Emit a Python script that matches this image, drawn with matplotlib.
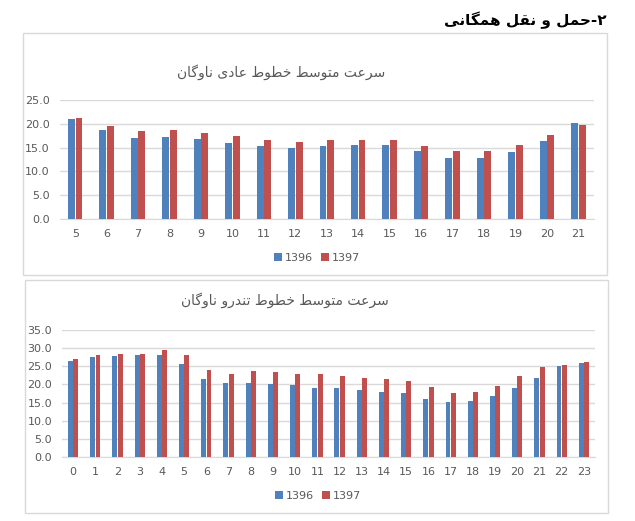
import matplotlib
matplotlib.use("Agg")
import matplotlib.pyplot as plt
from matplotlib.patches import Rectangle
import numpy as np

plt.rcParams['font.family'] = ['DejaVu Sans']

# --- dados ---
main_title = "۲-حمل و نقل همگانی"
title_regular = "سرعت متوسط خطوط عادی ناوگان"
title_express = "سرعت متوسط خطوط تندرو ناوگان"
series_names = ["1396", "1397"]

hours_regular = list(range(5, 22))
regular_1396 = [21.0, 18.7, 17.1, 17.3, 16.9, 16.0, 15.4, 15.0, 15.4,
                15.5, 15.5, 14.3, 12.9, 12.9, 14.0, 16.3, 20.1]
regular_1397 = [21.2, 19.6, 18.5, 18.7, 18.0, 17.4, 16.6, 16.2, 16.6,
                16.6, 16.6, 15.4, 14.3, 14.3, 15.6, 17.6, 19.8]

hours_express = list(range(0, 24))
express_1396 = [26.4, 27.5, 27.7, 28.1, 28.1, 25.5, 21.4, 20.3, 20.5, 20.1,
                19.8, 19.1, 19.0, 18.5, 18.0, 17.6, 16.1, 15.1, 15.4, 16.9,
                19.0, 21.9, 25.0, 25.8]
express_1397 = [27.1, 28.1, 28.3, 28.5, 29.6, 28.2, 24.1, 22.9, 23.6, 23.3,
                23.0, 22.8, 22.2, 21.9, 21.6, 20.9, 19.2, 17.6, 18.0, 19.7,
                22.2, 24.7, 25.4, 26.1]

BLUE = "#4F81BD"
RED = "#C0504D"
GRID = "#D9D9D9"
TXT = "#595959"

# formas de apresentacao (isolada, final, inicial, medial)
FORMS = {
    'ا': ('\uFE8D', '\uFE8E', None, None),
    'د': ('\uFEA9', '\uFEAA', None, None),
    'ر': ('\uFEAD', '\uFEAE', None, None),
    'و': ('\uFEED', '\uFEEE', None, None),
    'ت': ('\uFE95', '\uFE96', '\uFE97', '\uFE98'),
    'ح': ('\uFEA1', '\uFEA2', '\uFEA3', '\uFEA4'),
    'خ': ('\uFEA5', '\uFEA6', '\uFEA7', '\uFEA8'),
    'س': ('\uFEB1', '\uFEB2', '\uFEB3', '\uFEB4'),
    'ط': ('\uFEC1', '\uFEC2', '\uFEC3', '\uFEC4'),
    'ع': ('\uFEC9', '\uFECA', '\uFECB', '\uFECC'),
    'ق': ('\uFED5', '\uFED6', '\uFED7', '\uFED8'),
    'ل': ('\uFEDD', '\uFEDE', '\uFEDF', '\uFEE0'),
    'م': ('\uFEE1', '\uFEE2', '\uFEE3', '\uFEE4'),
    'ن': ('\uFEE5', '\uFEE6', '\uFEE7', '\uFEE8'),
    'ه': ('\uFEE9', '\uFEEA', '\uFEEB', '\uFEEC'),
    'ی': ('\uFBFC', '\uFBFD', '\uFBFE', '\uFBFF'),
    'گ': ('\uFB92', '\uFB93', '\uFB94', '\uFB95'),
}


def rtl(text):
    out = []
    for i, ch in enumerate(text):
        if ch not in FORMS:
            out.append(ch)
            continue
        prev = text[i - 1] if i > 0 else ''
        nxt = text[i + 1] if i + 1 < len(text) else ''
        iso, fin, ini, med = FORMS[ch]
        j_prev = prev in FORMS and FORMS[prev][2] is not None
        j_next = nxt in FORMS and ini is not None
        if j_prev and j_next:
            out.append(med)
        elif j_prev:
            out.append(fin)
        elif j_next:
            out.append(ini)
        else:
            out.append(iso)
    return ''.join(reversed(out))


W, H = 635, 521
fig = plt.figure(figsize=(W / 100, H / 100), dpi=100)
fig.patch.set_facecolor("white")


def fx(px):
    return px / W


def fy(py):
    return 1 - py / H


# titulo principal
fig.text(fx(607), fy(20), rtl(main_title), ha="right", va="center",
         fontsize=11, fontweight="bold", color="black")

# molduras
for (x0, y0, x1, y1) in [(23, 33, 607, 275), (25, 280, 608, 513)]:
    fig.patches.append(Rectangle((fx(x0), fy(y1)), fx(x1) - fx(x0), fy(y0) - fy(y1),
                                 transform=fig.transFigure, fill=False,
                                 edgecolor=GRID, lw=1.0))


def draw_chart(rect, cats, v1, v2, ymax, title, title_xy, legend_xy):
    ax = fig.add_axes(rect)
    x = np.arange(len(cats))
    w = 0.22
    ax.bar(x - 0.12, v1, w, color=BLUE, label=series_names[0], zorder=3)
    ax.bar(x + 0.12, v2, w, color=RED, label=series_names[1], zorder=3)
    ax.set_xlim(-0.5, len(cats) - 0.5)
    ax.set_ylim(0, ymax)
    ax.set_yticks(np.arange(0, ymax + 0.1, 5))
    ax.set_yticklabels([f"{t:.1f}" for t in np.arange(0, ymax + 0.1, 5)])
    ax.set_xticks(x)
    ax.set_xticklabels([str(c) for c in cats])
    ax.grid(axis="y", color=GRID, lw=1, zorder=0)
    for s in ["top", "right", "left"]:
        ax.spines[s].set_visible(False)
    ax.spines["bottom"].set_color(GRID)
    ax.tick_params(axis="both", length=0, colors=TXT, labelsize=8)
    ax.tick_params(axis="y", pad=7)
    ax.tick_params(axis="x", pad=7)
    fig.text(fx(title_xy[0]), fy(title_xy[1]), rtl(title), ha="center",
             va="center", fontsize=10, color=TXT)
    fig.legend(handles=ax.patches[:1] + ax.patches[len(cats):len(cats) + 1],
               labels=series_names, loc="center",
               bbox_to_anchor=(fx(legend_xy[0]), fy(legend_xy[1])),
               ncol=2, frameon=False, fontsize=8, labelcolor=TXT,
               handlelength=0.7, handleheight=0.7, handletextpad=0.2,
               columnspacing=0.8)
    return ax


draw_chart([fx(59.5), fy(219), fx(594) - fx(59.5), fy(100) - fy(219)],
           hours_regular, regular_1396, regular_1397, 25,
           title_regular, (281, 72), (317, 258))

draw_chart([fx(62), fy(457), fx(595) - fx(62), fy(330) - fy(457)],
           hours_express, express_1396, express_1397, 35,
           title_express, (285, 300), (318, 496))

fig.savefig("out.png", dpi=100, facecolor="white")
